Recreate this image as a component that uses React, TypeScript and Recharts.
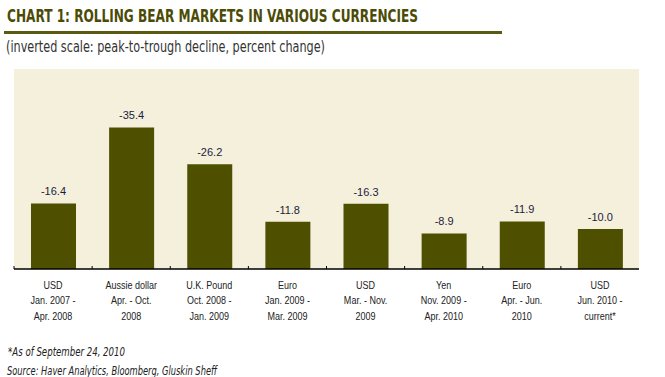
import React from "react";
import { BarChart, Bar, XAxis, YAxis, CartesianGrid, LabelList } from "recharts";

const currencies = ["USD", "Aussie dollar", "U.K. Pound", "Euro", "USD", "Yen", "Euro", "USD"];
const periodStart = ["Jan. 2007 -", "Apr.  - Oct.", "Oct. 2008 -", "Jan. 2009 -", "Mar. - Nov.", "Nov. 2009 -", "Apr. - Jun.", "Jun. 2010 -"];
const periodEnd = ["Apr. 2008", "2008", "Jan. 2009", "Mar. 2009", "2009", "Apr. 2010", "2010", "current*"];
const declines = [-16.4, -35.4, -26.2, -11.8, -16.3, -8.9, -11.9, -10.0];

const data = currencies.map((c, i) => ({ key: i, name: c, value: declines[i] }));

const W = 665;
const H = 377;
const M = { top: 69, right: 26, left: 14, bottom: 48 };
const HALF_BAND = (W - M.left - M.right) / data.length / 2;

const NARROW = "'Liberation Sans Narrow', 'Arial Narrow', 'DejaVu Sans Condensed', sans-serif";
const ARIAL = "'Liberation Sans', Arial, sans-serif";
const OLIVE = "#4f4f00";

// category label, three lines, plus a small upward tick at the left edge of the band
function AxisTick(props: any) {
  const { x, y, payload } = props;
  const i = payload.value as number;
  return (
    <g>
      <line x1={x - HALF_BAND} x2={x - HALF_BAND} y1={y} y2={y - 3} stroke="#000" strokeWidth={1} />
      <g transform={`translate(${x},${y}) scale(0.82,1)`}>
        <text x={0} y={0} textAnchor="middle" fontFamily={ARIAL} fontSize={11} fill="#222">
          <tspan x={0} dy={20}>{currencies[i]}</tspan>
          <tspan x={0} dy={15.5}>{periodStart[i]}</tspan>
          <tspan x={0} dy={15.5}>{periodEnd[i]}</tspan>
        </text>
      </g>
    </g>
  );
}

function ValueLabel(props: any) {
  const { x, y, width, height, value } = props;
  const top = Math.min(y, y + height);
  return (
    <text x={x + width / 2} y={top - 8} textAnchor="middle" fontFamily={ARIAL} fontSize={11} fill="#1c1c3c">
      {Number(value).toFixed(1)}
    </text>
  );
}

export default function App() {
  return (
    <div style={{ position: "absolute", left: 0, top: 0, width: W, height: H, background: "#fff" }}>
      <svg width={W} height={H} style={{ position: "absolute", left: 0, top: 0 }}>
        <text x={7} y={22} fontFamily={NARROW} fontWeight="bold" fontSize={18} fill="#4b4b06" textLength={411} lengthAdjust="spacingAndGlyphs">
          CHART 1: ROLLING BEAR MARKETS IN VARIOUS CURRENCIES
        </text>
        <rect x={4} y={31} width={498} height={3} fill="#5a5a12" />
        <text x={6} y={52} fontFamily={NARROW} fontSize={15} fill="#333" textLength={319} lengthAdjust="spacingAndGlyphs">
          (inverted scale: peak-to-trough decline, percent change)
        </text>
        <text x={8} y={356} fontFamily={NARROW} fontStyle="italic" fontSize={12} fill="#222" textLength={117} lengthAdjust="spacingAndGlyphs">
          *As of September 24, 2010
        </text>
        <text x={7} y={375} fontFamily={NARROW} fontStyle="italic" fontSize={12} fill="#222" textLength={210} lengthAdjust="spacingAndGlyphs">
          Source: Haver Analytics, Bloomberg, Gluskin Sheff
        </text>
      </svg>
      <div style={{ position: "absolute", left: 0, top: 0 }}>
        <BarChart width={W} height={H} data={data} margin={M}>
          <CartesianGrid horizontal={false} vertical={false} fill="#f5f0dc" stroke="none" />
          <XAxis
            dataKey="key"
            type="category"
            interval={0}
            height={60}
            tickSize={0}
            tickMargin={0}
            tickLine={false}
            axisLine={{ stroke: "#000", strokeWidth: 1.5 }}
            tick={<AxisTick />}
          />
          <YAxis hide domain={[-50, 0]} reversed />
          <Bar dataKey="value" fill={OLIVE} barSize={45} isAnimationActive={false}>
            <LabelList dataKey="value" content={<ValueLabel />} />
          </Bar>
        </BarChart>
      </div>
    </div>
  );
}
